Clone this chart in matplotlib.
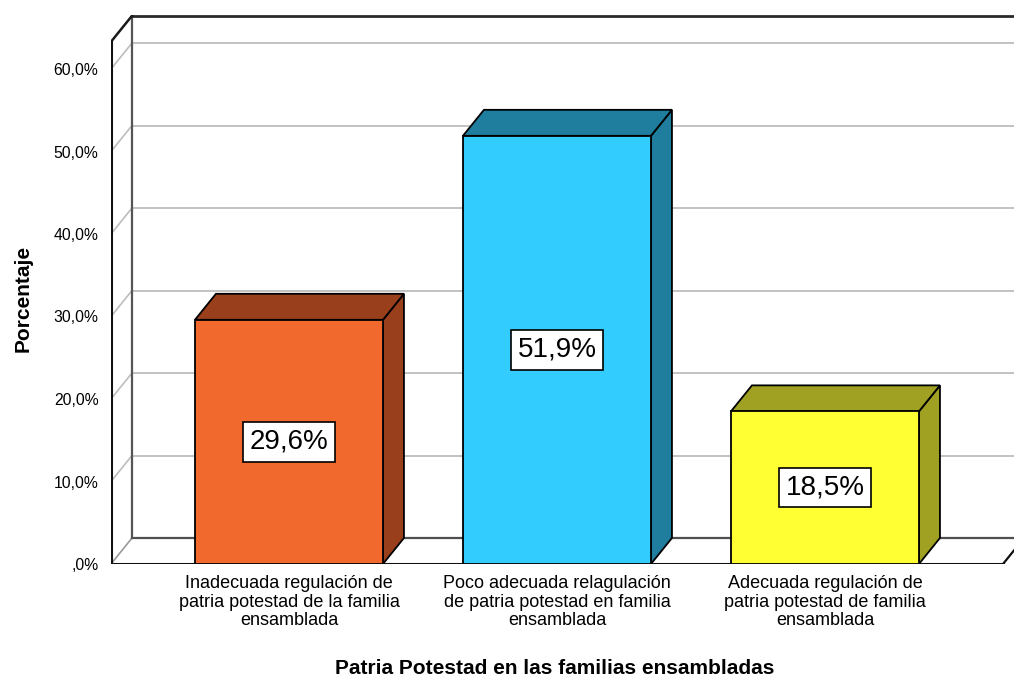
import matplotlib
matplotlib.use("Agg")
import matplotlib.pyplot as plt
import numpy as np

plt.rcParams['font.family'] = ['Liberation Sans', 'DejaVu Sans']

# ---- data ----
categories = [
    "Inadecuada regulación de\npatria potestad de la familia\nensamblada",
    "Poco adecuada relagulación\nde patria potestad en familia\nensamblada",
    "Adecuada regulación de\npatria potestad de familia\nensamblada",
]
values = [29.6, 51.9, 18.5]
front_colors = ["#F2692D", "#33CCFF", "#FFFF33"]
side_colors = ["#993F1C", "#1F7E9E", "#A0A022"]
y_ticks = [0, 10, 20, 30, 40, 50, 60]
y_ticklabels = [",0%", "10,0%", "20,0%", "30,0%", "40,0%", "50,0%", "60,0%"]
x_title = "Patria Potestad en las familias ensambladas"
y_title = "Porcentaje"

# ---- layout ----
W, H = 1014, 680
fig = plt.figure(figsize=(W / 100, H / 100), dpi=100)
px_per_cat = 268.0
px_per_pct = 8.25
left_px, floor_px, top_px = 111, 564, 15
ax = fig.add_axes([left_px / W, (H - floor_px) / H, (W - left_px) / W, (floor_px - top_px) / H])
x0 = -0.664
xmax = x0 + (W - left_px) / px_per_cat
ax.set_xlim(x0, xmax)
ax.set_ylim(0, (floor_px - top_px) / px_per_pct)
for s in ax.spines.values():
    s.set_visible(False)

DX = 21 / px_per_cat
DY = 26 / px_per_pct
TOP = 63.3
x_floor_end = x0 + 892 / px_per_cat
grid_c = "#BDBDBD"

# back wall gridlines and left wall diagonals
for t in y_ticks[1:]:
    ax.plot([x0 + DX, xmax], [t + DY, t + DY], color=grid_c, lw=1.3, zorder=1, solid_capstyle='butt')
    ax.plot([x0, x0 + DX], [t, t + DY], color=grid_c, lw=1.2, zorder=1)
# floor
ax.plot([x0 + DX, xmax], [DY, DY], color="#505050", lw=1.6, zorder=1)
ax.plot([x0, x0 + DX], [0, DY], color="#9A9A9A", lw=1.2, zorder=1)
# back left vertical edge
ax.plot([x0 + DX, x0 + DX], [DY, TOP + DY], color="#555555", lw=1.6, zorder=1)
# top edge of back wall
ax.plot([x0 + DX, xmax], [TOP + DY, TOP + DY], color="#2A2A2A", lw=2.0, zorder=1)
ax.plot([x0, x0 + DX], [TOP, TOP + DY], color="#1A1A1A", lw=1.8, zorder=1)
# front left axis line
ax.plot([x0, x0], [0, TOP], color="#111111", lw=2.2, zorder=4)
# front floor line and right diagonal
ax.plot([x0, x_floor_end], [0, 0], color="#111111", lw=2.2, zorder=2)
ax.plot([x_floor_end, x_floor_end + DX], [0, DY], color="#111111", lw=1.6, zorder=2)

# bars
xs = np.arange(len(values))
bw = 188 / px_per_cat
ax.bar(xs, values, width=bw, color=front_colors, edgecolor="black", linewidth=1.3, zorder=5)
for xi, v, sc in zip(xs, values, side_colors):
    l, r = xi - bw / 2, xi + bw / 2
    ax.fill([r, r + DX, r + DX, r], [0, DY, v + DY, v], facecolor=sc, edgecolor="black", lw=1.3, zorder=4)
    ax.fill([l, l + DX, r + DX, r], [v, v + DY, v + DY, v], facecolor=sc, edgecolor="black", lw=1.3, zorder=4)
    ax.text(xi, v / 2, f"{v:.1f}%".replace(".", ","), ha="center", va="center", fontsize=20,
            zorder=6, bbox=dict(boxstyle="square,pad=0.24", facecolor="white", edgecolor="black", lw=1.2))

# ticks
ax.set_yticks(y_ticks)
ax.set_yticklabels(y_ticklabels, fontsize=11.3)
ax.set_xticks(xs)
ax.set_xticklabels(categories, fontsize=13, linespacing=1.12)
ax.tick_params(axis="y", length=0, pad=9)
ax.tick_params(axis="x", length=0, pad=8)

fig.text(555 / W, 1 - 668 / H, x_title, ha="center", va="center", fontsize=15, fontweight="bold")
fig.text(23 / W, 1 - 298 / H, y_title, ha="center", va="center", fontsize=15, fontweight="bold", rotation=90)

fig.savefig("out.png", dpi=100)
